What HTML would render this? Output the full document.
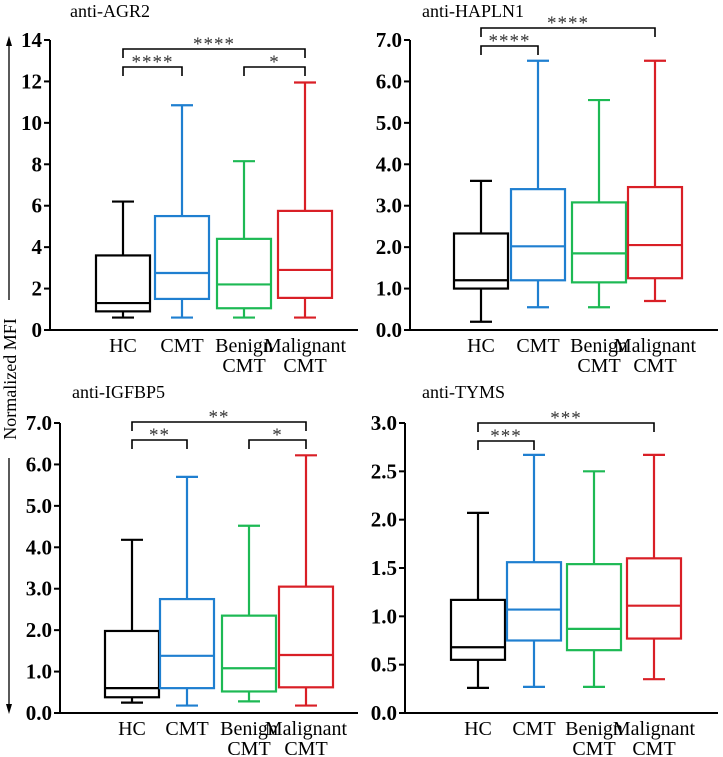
<!DOCTYPE html>
<html><head><meta charset="utf-8">
<style>
body{margin:0;background:#fff;}
svg{display:block;font-family:"Liberation Serif","DejaVu Serif",serif;}
</style></head>
<body>
<svg id="chart" width="723" height="757" viewBox="0 0 723 757"></svg>
<script>
const categories = ["HC","CMT","Benign CMT","Malignant CMT"];
const colors = ["#000000","#1f7fd0","#1db954","#d91f26"];
// [min, q1, median, q3, max] per category
const agr2Stats = [[0.6,0.9,1.3,3.6,6.2],[0.6,1.5,2.75,5.5,10.85],[0.6,1.05,2.2,4.4,8.15],[0.6,1.55,2.9,5.75,11.95]];
const hapln1Stats = [[0.2,1.0,1.2,2.33,3.6],[0.55,1.2,2.02,3.4,6.5],[0.55,1.15,1.85,3.08,5.55],[0.7,1.25,2.05,3.45,6.5]];
const igfbp5Stats = [[0.25,0.38,0.6,1.98,4.18],[0.18,0.6,1.38,2.75,5.7],[0.28,0.52,1.08,2.35,4.52],[0.18,0.62,1.4,3.05,6.22]];
const tymsStats = [[0.26,0.55,0.68,1.17,2.07],[0.27,0.75,1.07,1.56,2.67],[0.27,0.65,0.87,1.54,2.5],[0.35,0.77,1.11,1.6,2.67]];
const agr2Ticks = ["0","2","4","6","8","10","12","14"];
const hapln1Ticks = ["0.0","1.0","2.0","3.0","4.0","5.0","6.0","7.0"];
const igfbp5Ticks = ["0.0","1.0","2.0","3.0","4.0","5.0","6.0","7.0"];
const tymsTicks = ["0.0","0.5","1.0","1.5","2.0","2.5","3.0"];
// significance: [fromIdx, toIdx, label, level]
const agr2Sig = [[0,3,"****",0],[0,1,"****",1],[2,3,"*",1]];
const hapln1Sig = [[0,3,"****",0],[0,1,"****",1]];
const igfbp5Sig = [[0,3,"**",0],[0,1,"**",1],[2,3,"*",1]];
const tymsSig = [[0,3,"***",0],[0,1,"***",1]];

const panels = [
 {name:"agr2",title:"anti-AGR2",stats:agr2Stats,ticks:agr2Ticks,max:14,sig:agr2Sig,ax:50,xEnd:358,y0:330,yTop:40,cx:[123,182,244,305],bY:[49,67],tx:70,ty:17},
 {name:"hapln1",title:"anti-HAPLN1",stats:hapln1Stats,ticks:hapln1Ticks,max:7,sig:hapln1Sig,ax:410,xEnd:718,y0:330,yTop:40,cx:[481,538,599,655],bY:[28,46],tx:422,ty:17},
 {name:"igfbp5",title:"anti-IGFBP5",stats:igfbp5Stats,ticks:igfbp5Ticks,max:7,sig:igfbp5Sig,ax:60,xEnd:358,y0:713,yTop:423,cx:[132,187,249,306],bY:[422,440],tx:72,ty:398},
 {name:"tyms",title:"anti-TYMS",stats:tymsStats,ticks:tymsTicks,max:3,sig:tymsSig,ax:405,xEnd:718,y0:713,yTop:423,cx:[478,534,594,654],bY:[423,441],tx:422,ty:398}
];
const svg = document.getElementById('chart');
const NS = "http://www.w3.org/2000/svg";
function mk(tag, attrs, parent){const e=document.createElementNS(NS,tag);for(const k in attrs)e.setAttribute(k,attrs[k]);parent.appendChild(e);return e;}

panels.forEach(p=>{
  const g = mk('g',{},svg);
  
  
  const yS = v => p.y0 - v/p.max*(p.y0-p.yTop);
  const t = mk('text',{x:p.tx,y:p.ty,'font-size':18},g); t.textContent=p.title;
  
  
  const ya = mk('line',{x1:p.ax,y1:p.yTop,x2:p.ax,y2:p.y0,stroke:'#000','stroke-width':2},g);
  
  
  const xa = mk('line',{x1:p.ax,y1:p.y0,x2:p.xEnd,y2:p.y0,stroke:'#000','stroke-width':2},g);
  
  
  const step = p.max/(p.ticks.length-1);
  p.ticks.forEach((lab,i)=>{
    const y=yS(i*step);
    mk('line',{x1:p.ax-6,y1:y,x2:p.ax,y2:y,stroke:'#000','stroke-width':2},g);
    const tt=mk('text',{x:p.ax-8,y:y+7,'text-anchor':'end','font-size':21,'font-weight':'bold'},g);
    tt.textContent=lab;
    
    
  });
  const bw=54;
  p.stats.forEach((s,i)=>{
    const c=colors[i], x=p.cx[i];
    const bg=mk('g',{stroke:c,'stroke-width':2.2,fill:'none'},g);
    
    
    mk('line',{x1:x,y1:yS(s[0]),x2:x,y2:yS(s[1])},bg);
    mk('line',{x1:x,y1:yS(s[3]),x2:x,y2:yS(s[4])},bg);
    mk('line',{x1:x-11,y1:yS(s[0]),x2:x+11,y2:yS(s[0])},bg);
    mk('line',{x1:x-11,y1:yS(s[4]),x2:x+11,y2:yS(s[4])},bg);
    mk('rect',{x:x-bw/2,y:yS(s[3]),width:bw,height:yS(s[1])-yS(s[3])},bg);
    mk('line',{x1:x-bw/2,y1:yS(s[2]),x2:x+bw/2,y2:yS(s[2])},bg);
    const parts=categories[i].split(' ');
    const lt=mk('text',{x:x,y:p.y0+22,'text-anchor':'middle','font-size':20},g);
    
    
    parts.forEach((w,j)=>{const ts=mk('tspan',{x:x,dy:j?20:0},lt);ts.textContent=w;});
  });
  p.sig.forEach(sg=>{
    const y=p.bY[sg[3]], x1=p.cx[sg[0]], x2=p.cx[sg[1]];
    const br=mk('path',{d:`M${x1},${y+9}V${y}H${x2}V${y+9}`,stroke:'#000','stroke-width':1.6,fill:'none'},g);
    
    
    const st=mk('text',{x:(x1+x2)/2,y:y+1,'text-anchor':'middle','font-size':19,'letter-spacing':1,fill:'#333'},g);
    st.textContent=sg[2];
    
    
  });
});
</script>
<svg style="position:absolute;left:0;top:0" width="30" height="757">
  <line x1="9" y1="44" x2="9" y2="300" stroke="#000" stroke-width="1.3"/>
  <polygon points="9,36 6,46 12,46" fill="#000"/>
  <line x1="9" y1="458" x2="9" y2="706" stroke="#000" stroke-width="1.3"/>
  <polygon points="9,714 6,704 12,704" fill="#000"/>
  <text x="-379" y="16" transform="rotate(-90)" text-anchor="middle" font-size="18" font-family="Liberation Serif, serif">Normalized MFI</text>
</svg>
</body></html>
